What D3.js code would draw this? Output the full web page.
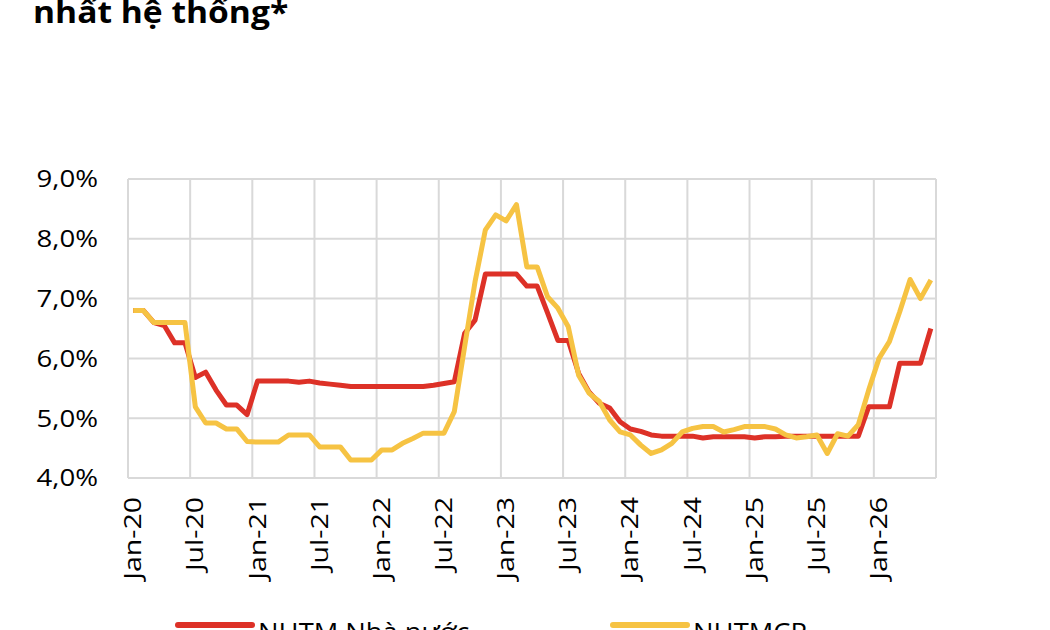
<!DOCTYPE html>
<html lang="vi">
<head>
  <meta charset="UTF-8">
  <title>Lãi suất NHTM Nhà nước và NHTMCP</title>
  <script src="https://d3js.org/d3.v7.min.js"></script>
  <style>
    body { margin: 0; background: #fff; }
    svg { font-family: "Open Sans", "Noto Sans", sans-serif; }
    .grid line { stroke: #d9d9d9; stroke-width: 2px; }
    .ylab text { font-size: 24px; fill: #000; }
    .xlab text { font-size: 23px; fill: #000; }
    .legend text { font-size: 26px; fill: #000; }
  </style>
</head>
<body>

<script>
  // tháng Jan-20 .. Jun-26
  const months = d3.timeMonths(new Date(2020, 0, 1), new Date(2026, 6, 1));
  const tickLabels = ["Jan-20", "Jul-20", "Jan-21", "Jul-21", "Jan-22", "Jul-22", "Jan-23",
                      "Jul-23", "Jan-24", "Jul-24", "Jan-25", "Jul-25", "Jan-26"];
  const yTicks = [4, 5, 6, 7, 8, 9];

  const nhtmNhaNuoc = [
    6.80, 6.80, 6.60, 6.55, 6.26, 6.26, 5.68, 5.77, 5.47, 5.22, 5.22, 5.06,
    5.62, 5.62, 5.62, 5.62, 5.60, 5.62, 5.59, 5.57, 5.55, 5.53, 5.53, 5.53,
    5.53, 5.53, 5.53, 5.53, 5.53, 5.55, 5.58, 5.61, 6.42, 6.64, 7.41, 7.41,
    7.41, 7.41, 7.21, 7.21, 6.76, 6.30, 6.30, 5.75, 5.44, 5.25, 5.17, 4.94,
    4.82, 4.78, 4.72, 4.70, 4.70, 4.70, 4.70, 4.67, 4.69, 4.69, 4.69, 4.69,
    4.67, 4.69, 4.69, 4.70, 4.70, 4.70, 4.70, 4.70, 4.70, 4.70, 4.70, 5.19,
    5.19, 5.19, 5.92, 5.92, 5.92, 6.50
  ];
  const nhtmcp = [
    6.80, 6.80, 6.60, 6.60, 6.60, 6.60, 5.19, 4.92, 4.92, 4.82, 4.82, 4.61,
    4.60, 4.60, 4.60, 4.72, 4.72, 4.72, 4.52, 4.52, 4.52, 4.30, 4.30, 4.30,
    4.47, 4.47, 4.58, 4.66, 4.75, 4.75, 4.75, 5.11, 6.20, 7.28, 8.15, 8.40,
    8.30, 8.57, 7.53, 7.53, 7.03, 6.84, 6.53, 5.72, 5.42, 5.28, 4.97, 4.77,
    4.72, 4.55, 4.41, 4.47, 4.58, 4.77, 4.83, 4.86, 4.86, 4.77, 4.81, 4.86,
    4.86, 4.86, 4.82, 4.72, 4.67, 4.69, 4.72, 4.41, 4.74, 4.70, 4.89, 5.47,
    6.00, 6.28, 6.78, 7.32, 7.00, 7.31
  ];

  const series = [
    { name: "NHTM Nhà nước", values: nhtmNhaNuoc, color: "#dd3127" },
    { name: "NHTMCP", values: nhtmcp, color: "#f6c343" }
  ];

  const W = 1050, H = 630;
  const plotL = 128, plotR = 936, plotT = 179, plotB = 478;

  const svg = d3.select("body").append("svg")
    .attr("width", W)
    .attr("height", H);

  // tiêu đề (dòng trên bị cắt trong ảnh gốc)
  svg.append("text")
    .attr("transform", "translate(33,23) scale(1.12,1)")
    .style("font-size", "30px")
    .style("font-weight", "bold")
    .text("nhất hệ thống*");

  const x = d3.scaleBand()
    .domain(d3.range(months.length))
    .range([plotL, plotR])
    .padding(0);

  const y = d3.scaleLinear()
    .domain([4, 9])
    .range([plotB, plotT]);

  const fmt = d3.format(".1f");

  // lưới
  const grid = svg.append("g").attr("class", "grid");
  grid.selectAll(".h")
    .data(yTicks)
    .enter().append("line")
    .attr("x1", plotL).attr("x2", plotR)
    .attr("y1", d => y(d)).attr("y2", d => y(d));

  const vIdx = d3.range(0, months.length + 1, 6);
  grid.selectAll(".v")
    .data(vIdx)
    .enter().append("line")
    .attr("x1", d => d < months.length ? x(d) : plotR)
    .attr("x2", d => d < months.length ? x(d) : plotR)
    .attr("y1", plotT).attr("y2", plotB);

  // nhãn trục y
  svg.append("g").attr("class", "ylab")
    .selectAll("text")
    .data(yTicks)
    .enter().append("text")
    .attr("transform", d => "translate(98," + y(d) + ") scale(1.15,1)")
    .attr("dy", "0.35em")
    .attr("text-anchor", "end")
    .text(d => fmt(d).replace(".", ",") + "%");

  // nhãn trục x
  svg.append("g").attr("class", "xlab")
    .selectAll("text")
    .data(tickLabels)
    .enter().append("text")
    .attr("transform", (d, i) => {
      const cx = x(i * 6) + x.bandwidth() / 2;
      return "translate(" + cx + ",497) rotate(-90) scale(1.24,1)";
    })
    .attr("dy", "0.35em")
    .attr("text-anchor", "end")
    .text(d => d);

  // đường
  const line = d3.line()
    .x((d, i) => x(i) + x.bandwidth() / 2)
    .y(d => y(d))
    .curve(d3.curveLinear);

  series.forEach(s => {
    svg.append("path")
      .datum(s.values)
      .attr("fill", "none")
      .attr("stroke", s.color)
      .attr("stroke-width", 5)
      .attr("stroke-linejoin", "round")
      .attr("d", line);
  });

  // chú thích
  const legendX = [178, 613];
  const legend = svg.selectAll(".legend")
    .data(series)
    .enter().append("g")
    .attr("class", "legend")
    .attr("transform", (d, i) => "translate(" + legendX[i] + ",625)");

  legend.append("line")
    .attr("x1", 0).attr("x2", 74)
    .attr("stroke", d => d.color)
    .attr("stroke-width", 6)
    .attr("stroke-linecap", "round");

  legend.append("text")
    .attr("transform", "translate(80,7) scale(1.05,1)")
    .attr("dy", "0.35em")
    .text(d => d.name);
</script>

</body>
</html>
